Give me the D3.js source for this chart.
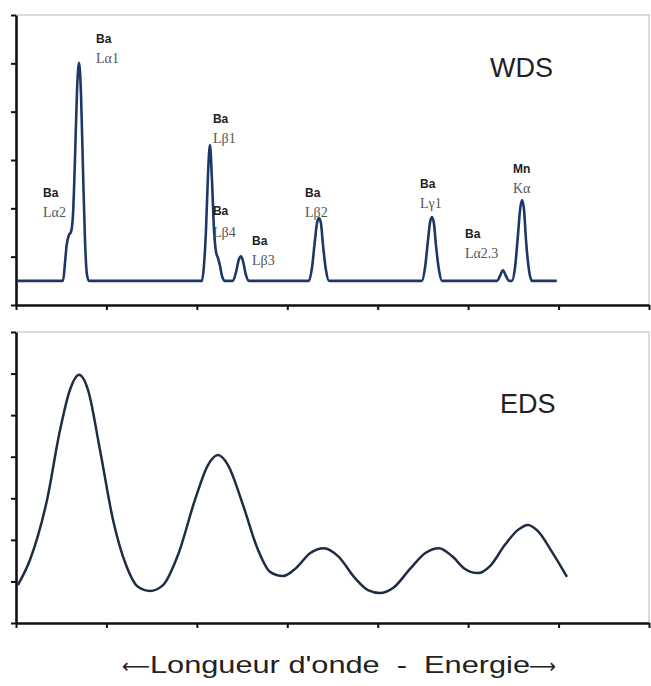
<!DOCTYPE html>
<html>
<head>
<meta charset="utf-8">
<script src="https://cdn.jsdelivr.net/npm/d3@7"></script>
<style>
  body { margin: 0; background: #fff; }
  svg { display: block; font-family: "Liberation Sans", Arial, sans-serif; }
</style>
</head>
<body>
<div></div>
<script>
const width = 651;
const height = 686;

// WDS spectrum (x: 0-700, y: 0-600)
const wdsPoints = [
  [2, 50], [52, 50], [54, 83], [56, 124], [58.6, 145], [60.8, 151], [63, 186], [65.2, 300],
  [67.5, 445], [69.7, 501], [71.9, 435], [74.1, 279], [76.3, 134], [78.5, 62], [80.7, 50],
  [205.7, 50], [207.9, 83], [210.1, 155], [212.3, 269], [214.5, 331], [216.7, 259], [219, 155],
  [221.2, 110], [223.4, 97], [225.6, 81], [227.8, 60], [231.1, 50], [239.9, 50], [243.3, 68],
  [246.6, 95], [248.8, 101], [251, 91], [254.3, 62], [257.7, 50],
  [324, 50], [327.3, 77], [330.6, 134], [332.9, 170], [335.1, 180], [337.3, 168], [339.5, 124],
  [342.8, 72], [346.1, 50],
  [448.9, 50], [452.3, 77], [455.6, 134], [457.8, 170], [460, 182], [462.2, 168], [464.4, 124],
  [467.8, 72], [471.1, 50],
  [531.9, 50], [535.2, 60], [538.5, 72], [541.8, 60], [545.2, 50],
  [548.5, 50], [551.8, 77], [555.1, 145], [557.4, 197], [559.6, 217], [561.8, 197], [564, 134],
  [567.3, 72], [570.6, 50], [598, 50]
];

// EDS spectrum (x: 0-700, y: 0-700)
const edsPoints = [
  [2, 91], [15.5, 152], [34.3, 296], [48.7, 464], [59.7, 561], [69.7, 597], [79.6, 561],
  [92.9, 416], [107.3, 248], [121.6, 140], [134.9, 87], [148.2, 77], [162.6, 91], [179.2, 164],
  [197.9, 296], [212.3, 380], [223.4, 404], [234.4, 380], [251, 284], [267.6, 176], [280.9, 123],
  [295.3, 113], [309.6, 132], [325.1, 168], [340.6, 180], [356.1, 161], [374.9, 108], [389.3, 79],
  [402.5, 72], [416.9, 84], [435.7, 130], [452.3, 168], [467.8, 180], [482.1, 161], [496.5, 130],
  [510.9, 120], [524.2, 137], [540.7, 188], [555.1, 224], [566.2, 236], [577.2, 221], [592.7, 171],
  [609.3, 111]
];

// peak labels
const peakElements = ['Ba', 'Ba', 'Ba', 'Ba', 'Ba', 'Ba', 'Ba', 'Ba', 'Mn'];
const peakLines = ['L\u03b11', 'L\u03b12', 'L\u03b21', 'L\u03b24', 'L\u03b23', 'L\u03b22', 'L\u03b31', 'L\u03b12.3', 'K\u03b1'];
const peakLabelX = [88.5, 29.9, 217.8, 217.8, 261, 319.6, 446.8, 496.5, 549.6];
const peakLabelY = [542, 223.5, 376.6, 186.2, 124, 223.5, 242, 138.6, 273];

const panelTitles = ['WDS', 'EDS'];
const axisTitle = 'Longueur d\'onde  -  Energie';

const svg = d3.select('div').append('svg').attr('width', width).attr('height', height);

const x = d3.scaleLinear().domain([0, 700]).range([16, 649]);
const yTop = d3.scaleLinear().domain([0, 600]).range([305, 15]);
const yBot = d3.scaleLinear().domain([0, 700]).range([623, 332]);

function drawPanel(y, nTicks) {
  const g = svg.append('g');
  // light frame on top and right
  g.append('path')
    .attr('d', 'M' + x(0) + ',' + y.range()[1] + 'H' + x(700) + 'V' + y.range()[0])
    .attr('fill', 'none').attr('stroke', '#cfcfcf').attr('stroke-width', 1.5);

  const xa = g.append('g').attr('transform', 'translate(0,' + y.range()[0] + ')')
    .call(d3.axisBottom(x).ticks(7).tickSize(5).tickSizeOuter(0).tickFormat(''));
  const ya = g.append('g').attr('transform', 'translate(' + x(0) + ',0)')
    .call(d3.axisLeft(y).ticks(nTicks).tickSize(5).tickSizeOuter(0).tickFormat(''));
  [xa, ya].forEach(a => {
    a.select('.domain').attr('stroke', '#111').attr('stroke-width', 2.6);
    a.selectAll('.tick line').attr('stroke', '#111').attr('stroke-width', 2);
  });
  return g;
}

drawPanel(yTop, 6);
drawPanel(yBot, 7);

const wdsLine = d3.line().x(d => x(d[0])).y(d => yTop(d[1])).curve(d3.curveMonotoneX);
svg.append('path').datum(wdsPoints)
  .attr('d', wdsLine)
  .attr('fill', 'none').attr('stroke', '#1d3866').attr('stroke-width', 2.6)
  .attr('stroke-linejoin', 'round');

const edsLine = d3.line().x(d => x(d[0])).y(d => yBot(d[1])).curve(d3.curveMonotoneX);
svg.append('path').datum(edsPoints)
  .attr('d', edsLine)
  .attr('fill', 'none').attr('stroke', '#1e2d44').attr('stroke-width', 2.5);

// peak labels
const lab = svg.append('g').selectAll('g').data(peakElements).enter().append('g')
  .attr('transform', (d, i) => 'translate(' + x(peakLabelX[i]) + ',' + yTop(peakLabelY[i]) + ')');
lab.append('text').text(d => d)
  .attr('font-size', 12).attr('font-weight', 'bold').attr('fill', '#222');
lab.append('text').text((d, i) => peakLines[i])
  .attr('y', (d, i) => i === 3 ? 22 : 20)
  .attr('font-family', '"Liberation Serif", serif')
  .attr('font-size', 14).attr('fill', '#555');

svg.append('text').text(panelTitles[0])
  .attr('x', 490).attr('y', 77).attr('font-size', 27).attr('fill', '#222');
svg.append('text').text(panelTitles[1])
  .attr('x', 500).attr('y', 413).attr('font-size', 27).attr('fill', '#222');

// bottom title with arrows
const t = svg.append('g').attr('fill', '#222').attr('font-size', 24);
t.append('text').text('\u27f5').attr('x', 122).attr('y', 673)
  .attr('font-family', '"DejaVu Sans", sans-serif').attr('font-size', 20)
  .attr('textLength', 28).attr('lengthAdjust', 'spacingAndGlyphs');
t.append('text').text(axisTitle).attr('x', 150).attr('y', 673)
  .style('white-space', 'pre')
  .attr('textLength', 380).attr('lengthAdjust', 'spacingAndGlyphs');
t.append('text').text('\u27f6').attr('x', 529).attr('y', 673)
  .attr('font-family', '"DejaVu Sans", sans-serif').attr('font-size', 20)
  .attr('textLength', 27).attr('lengthAdjust', 'spacingAndGlyphs');
</script>
</body>
</html>
